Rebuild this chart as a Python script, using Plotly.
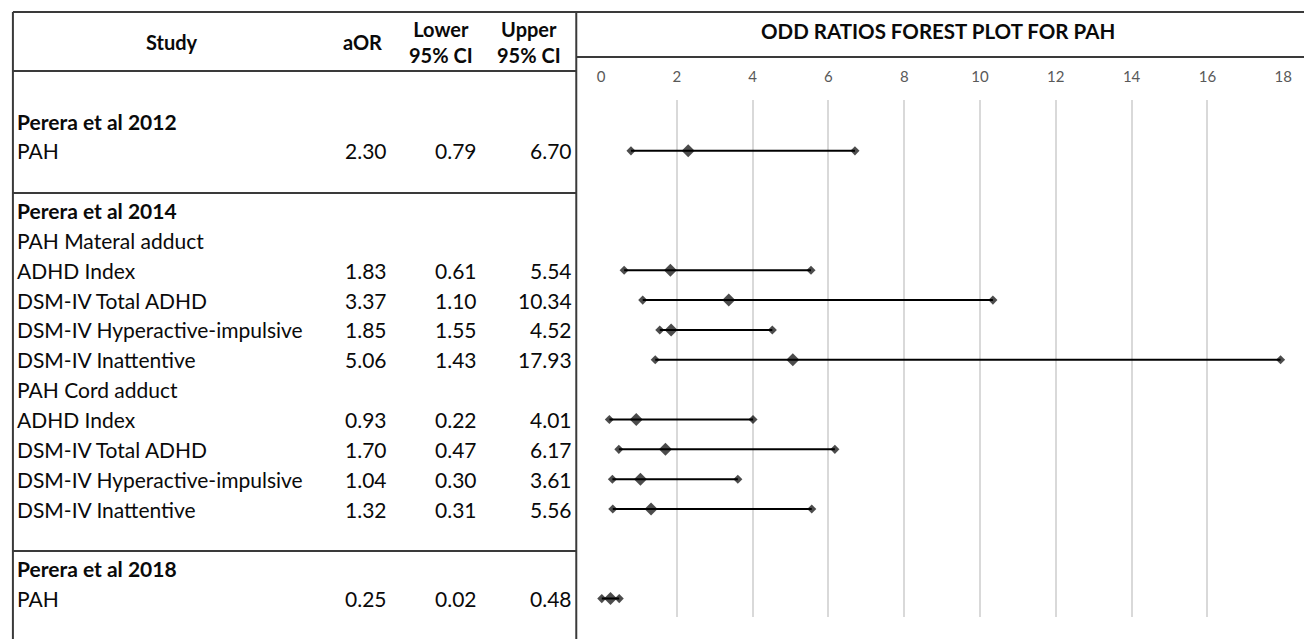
import plotly.graph_objects as go

# ---- data ----
row_labels = ["Perera et al 2012", "PAH", "", "Perera et al 2014", "PAH Materal adduct",
              "ADHD Index", "DSM-IV Total ADHD", "DSM-IV Hyperactive-impulsive", "DSM-IV Inattentive",
              "PAH Cord adduct", "ADHD Index", "DSM-IV Total ADHD", "DSM-IV Hyperactive-impulsive",
              "DSM-IV Inattentive", "", "Perera et al 2018", "PAH"]
row_bold = [True, False, False, True, False, False, False, False, False,
            False, False, False, False, False, False, True, False]
aor =   [None, 2.30, None, None, None, 1.83, 3.37, 1.85, 5.06, None, 0.93, 1.70, 1.04, 1.32, None, None, 0.25]
lower = [None, 0.79, None, None, None, 0.61, 1.10, 1.55, 1.43, None, 0.22, 0.47, 0.30, 0.31, None, None, 0.02]
upper = [None, 6.70, None, None, None, 5.54, 10.34, 4.52, 17.93, None, 4.01, 6.17, 3.61, 5.56, None, None, 0.48]
x_ticks = [0, 2, 4, 6, 8, 10, 12, 14, 16, 18]
headers = ["Study", "aOR", "Lower<br>95% CI", "Upper<br>95% CI"]
title_text = "ODD RATIOS FOREST PLOT FOR PAH"

W, H = 1313, 639
FONT = "Lato"
TXT = "#0a0a0a"
LINE = "#3a3a3a"

def px(x):
    return x / W

def py(y):
    return 1 - y / H

fig = go.Figure()

# forest lines
for i, (a, lo, up) in enumerate(zip(aor, lower, upper)):
    if a is None:
        continue
    fig.add_trace(go.Scatter(
        x=[lo, a, up], y=[i, i, i], mode="lines+markers",
        line=dict(color="black", width=2),
        marker=dict(symbol="diamond", color="black", size=[7, 10, 7], line=dict(width=0)),
        showlegend=False, hoverinfo="skip", cliponaxis=False))

annotations = []
# table text
for i, lab in enumerate(row_labels):
    if lab:
        annotations.append(dict(
            x=px(11), xref="paper", y=i, yref="y", xanchor="left", yanchor="middle",
            text=f"<b>{lab}</b>" if row_bold[i] else lab, showarrow=False,
            font=dict(family=FONT, size=21, color=TXT)))
    if aor[i] is not None:
        for val, xr in ((aor[i], 389), (lower[i], 480), (upper[i], 576)):
            annotations.append(dict(
                x=px(xr), xref="paper", y=i, yref="y", xanchor="right", yanchor="middle",
                text=f"{val:.2f}", showarrow=False,
                font=dict(family=FONT, size=21, color=TXT)))

# headers
for text, xc in zip(headers, (170, 362, 441, 530)):
    annotations.append(dict(
        x=px(xc), xref="paper", y=py(42), yref="paper", xanchor="center", yanchor="middle",
        text=f"<b>{text}</b>", showarrow=False,
        font=dict(family=FONT, size=20, color=TXT)))

annotations.append(dict(
    x=px(943), xref="paper", y=py(31), yref="paper", xanchor="center", yanchor="middle",
    text=f"<b>{title_text}</b>", showarrow=False,
    font=dict(family=FONT, size=20.5, color=TXT)))

# table borders
lines = [
    (9, 12, W, 12), (9, 12, 9, H), (578, 12, 578, H), (9, 71, 578, 71),
    (578, 57, W, 57), (9, 193, 578, 193), (9, 551, 578, 551),
]
shapes = [dict(type="line", xref="paper", yref="paper", x0=px(a), y0=py(b), x1=px(c), y1=py(d),
               line=dict(color=LINE, width=2)) for a, b, c, d in lines]

y_top_px, y_bot_px = 100, 617
row0, step = 121, 29.85
fig.update_layout(
    width=W, height=H, margin=dict(l=0, r=0, t=0, b=0),
    paper_bgcolor="white", plot_bgcolor="white",
    annotations=annotations, shapes=shapes,
    xaxis=dict(domain=[px(603), px(1292)], range=[0, 18], side="top",
               tickvals=x_ticks, ticks="", showline=False, zeroline=False,
               showgrid=True, gridcolor="#d9d9d9", gridwidth=1.5,
               tickfont=dict(family=FONT, size=15, color="#595959"),
               ticklabelstandoff=14),
    yaxis=dict(domain=[py(y_bot_px), py(y_top_px)],
               range=[(y_bot_px - row0) / step, (y_top_px - row0) / step],
               showticklabels=False, showgrid=False, zeroline=False, showline=False),
)

fig.write_html("out.html",
               config={"displayModeBar": False, "responsive": False},
               default_width=f"{W}px", default_height=f"{H}px",
               post_script="document.documentElement.style.margin='0';document.body.style.margin='0';"
                           "document.documentElement.style.overflow='hidden';document.body.style.overflow='hidden';")
